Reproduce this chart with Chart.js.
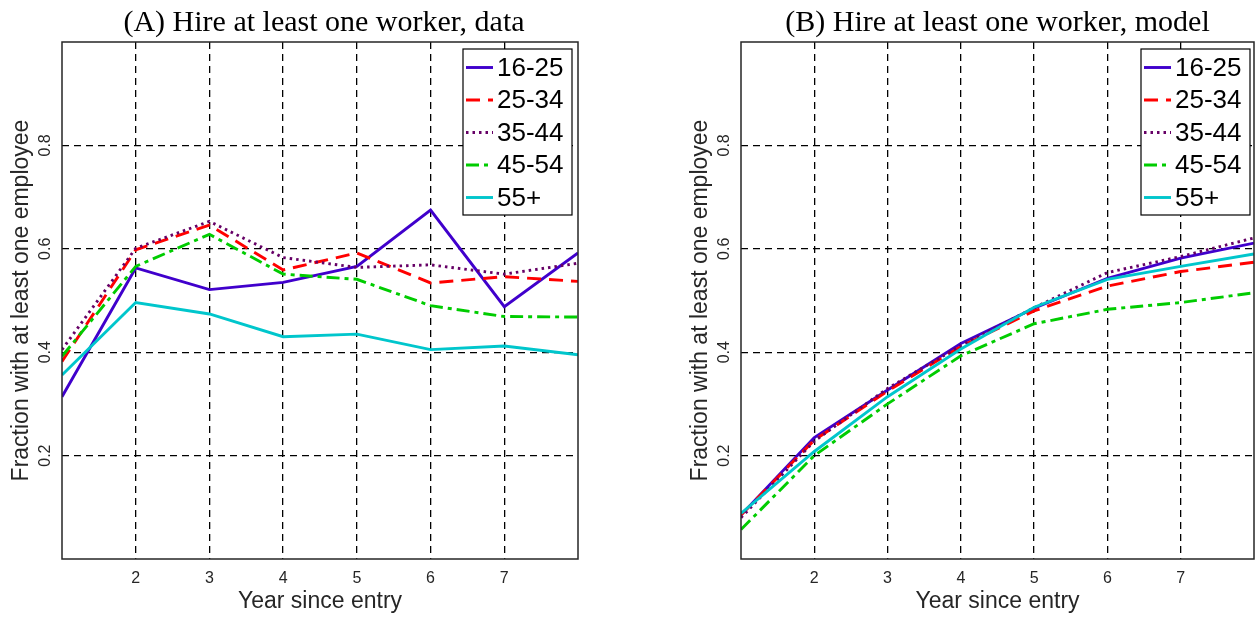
<!DOCTYPE html>
<html>
<head>
<meta charset="utf-8">
<script src="https://cdn.jsdelivr.net/npm/chart.js@4.4.0/dist/chart.umd.min.js"></script>
<style>
body{margin:0;background:#fff;width:1256px;height:617px;overflow:hidden;position:relative}
.panel{position:absolute;top:0;height:617px}
#pa{left:0;width:679px}
#pb{left:679px;width:577px}
</style>
</head>
<body>
<div class="panel" id="pa"><canvas id="chartA"></canvas></div>
<div class="panel" id="pb"><canvas id="chartB"></canvas></div>
<script>
const years = [1, 2, 3, 4, 5, 6, 7, 8];
const groups = ["16-25", "25-34", "35-44", "45-54", "55+"];
const xTicks = [2, 3, 4, 5, 6, 7];
const yTicks = [0.2, 0.4, 0.6, 0.8];

// (A) data
const dataA16 = [0.314, 0.563, 0.521, 0.535, 0.566, 0.675, 0.488, 0.592];
const dataA25 = [0.382, 0.598, 0.646, 0.559, 0.592, 0.534, 0.546, 0.537];
const dataA35 = [0.405, 0.601, 0.653, 0.583, 0.564, 0.569, 0.551, 0.572];
const dataA45 = [0.392, 0.566, 0.628, 0.551, 0.541, 0.490, 0.469, 0.468];
const dataA55 = [0.356, 0.496, 0.474, 0.430, 0.435, 0.405, 0.412, 0.395];

// (B) model
const modelB16 = [0.085, 0.235, 0.327, 0.417, 0.485, 0.543, 0.582, 0.611];
const modelB25 = [0.085, 0.230, 0.325, 0.411, 0.480, 0.528, 0.556, 0.574];
const modelB35 = [0.080, 0.228, 0.330, 0.413, 0.486, 0.554, 0.585, 0.621];
const modelB45 = [0.057, 0.200, 0.300, 0.393, 0.455, 0.483, 0.496, 0.515];
const modelB55 = [0.088, 0.208, 0.314, 0.406, 0.487, 0.541, 0.566, 0.590];

const styles = [
  {color: "#4000cc", dash: []},
  {color: "#ff0000", dash: [14, 8]},
  {color: "#660066", dash: [2.5, 4]},
  {color: "#00cc00", dash: [13, 5, 4, 5]},
  {color: "#00c6cc", dash: []}
];

function makeSets(series){
  return series.map((vals, i) => ({
    label: groups[i],
    data: years.map((x, j) => ({x: x, y: vals[j]})),
    borderColor: styles[i].color,
    borderDash: styles[i].dash,
    borderWidth: 2.9,
    pointRadius: 0,
    fill: false,
    tension: 0,
    order: 4 - i
  }));
}

const frame = {
  id: "frame",
  afterDraw(chart, args, opts){
    const {ctx, chartArea: a} = chart;
    ctx.save();
    ctx.strokeStyle = "#262626";
    ctx.lineWidth = 1.5;
    ctx.strokeRect(a.left, a.top, a.right - a.left, a.bottom - a.top);

    ctx.fillStyle = "#000";
    ctx.font = '30px "Liberation Serif"';
    ctx.textAlign = "center";
    ctx.textBaseline = "middle";
    ctx.fillText(opts.title, (a.left + a.right) / 2 + opts.shift, 23);

    // legend box
    const w = 109, h = 166;
    const x0 = a.right - opts.inset - w, y0 = a.top + 7;
    ctx.fillStyle = "#fff";
    ctx.fillRect(x0, y0, w, h);
    ctx.strokeStyle = "#000";
    ctx.lineWidth = 1.2;
    ctx.strokeRect(x0, y0, w, h);
    ctx.font = '26px "Liberation Sans"';
    ctx.textAlign = "left";
    chart.data.datasets.forEach((ds, i) => {
      const y = y0 + 18.5 + i * 32.5;
      ctx.strokeStyle = ds.borderColor;
      ctx.lineWidth = ds.borderWidth;
      ctx.setLineDash(ds.borderDash);
      ctx.beginPath();
      ctx.moveTo(x0 + 3, y);
      ctx.lineTo(x0 + 30, y);
      ctx.stroke();
      ctx.setLineDash([]);
      ctx.fillStyle = "#000";
      ctx.fillText(ds.label, x0 + 34, y + 1);
    });
    ctx.restore();
  }
};

function makeScales(){
  return {
    x: {
      type: "linear", min: 1, max: 8,
      afterBuildTicks: s => { s.ticks = xTicks.map(v => ({value: v})); },
      afterFit: s => { s.height = 58; },
      grid: {color: "#000", lineWidth: 1.3, drawTicks: false},
      border: {display: false, dash: [7, 5]},
      ticks: {color: "#262626", font: {family: "Liberation Sans", size: 16}, padding: 10, maxRotation: 0},
      title: {display: true, text: "Year since entry", color: "#262626",
              font: {family: "Liberation Sans", size: 23}, padding: {top: 0, bottom: 2}}
    },
    y: {
      type: "linear", min: 0, max: 1,
      afterBuildTicks: s => { s.ticks = yTicks.map(v => ({value: v})); },
      afterFit: s => { s.width = 62; },
      grid: {color: "#000", lineWidth: 1.3, drawTicks: false},
      border: {display: false, dash: [7, 5]},
      ticks: {color: "#262626", font: {family: "Liberation Sans", size: 16}, padding: 5,
              minRotation: 90, maxRotation: 90, crossAlign: "center",
              callback: v => v.toFixed(1)},
      title: {display: true, text: "Fraction with at least one employee", color: "#262626",
              font: {family: "Liberation Sans", size: 23}, padding: {top: 8, bottom: 0}}
    }
  };
}

function drawPanel(id, series, title, shift, rightPad, inset){
  new Chart(id, {
    type: "line",
    data: {datasets: makeSets(series)},
    options: {
      responsive: true,
      maintainAspectRatio: false,
      animation: false,
      layout: {padding: {top: 42, right: rightPad, left: 0, bottom: 0}},
      scales: makeScales(),
      plugins: {
        legend: {display: false},
        tooltip: {enabled: false},
        frame: {title: title, shift: shift, inset: inset}
      }
    },
    plugins: [frame]
  });
}

drawPanel("chartA", [dataA16, dataA25, dataA35, dataA45, dataA55],
  "(A) Hire at least one worker, data", 4, 101, 6);
drawPanel("chartB", [modelB16, modelB25, modelB35, modelB45, modelB55],
  "(B) Hire at least one worker, model", 0, 2, 4);
</script>
</body>
</html>
